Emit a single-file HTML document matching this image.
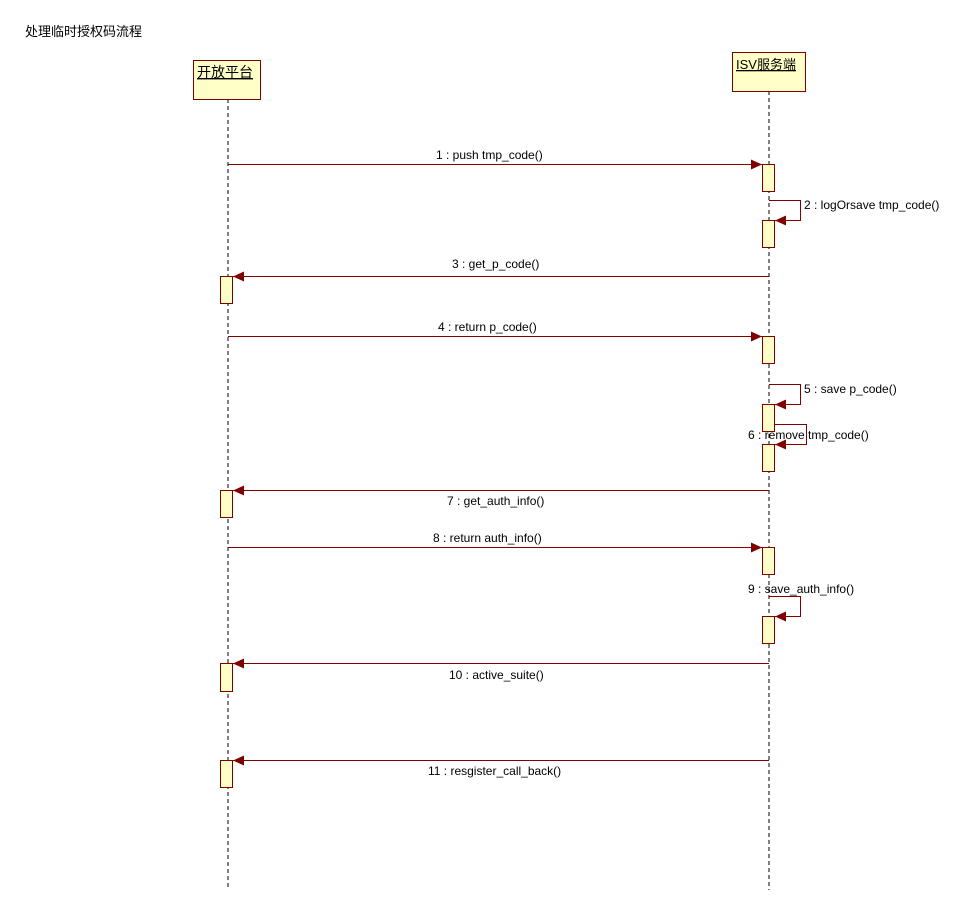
<!DOCTYPE html>
<html><head><meta charset="utf-8"><style>
body{margin:0;background:#fff;}
text{font-family:"Liberation Sans","Noto Sans CJK SC",sans-serif;font-size:12px;fill:#000;}
</style></head><body>
<svg width="966" height="912" xmlns="http://www.w3.org/2000/svg">
<defs><marker id="a" markerWidth="12" markerHeight="10" refX="11" refY="5" orient="auto" markerUnits="userSpaceOnUse"><path d="M0,0 L11,5 L0,10 Z" fill="#800000"/></marker></defs>
<text x="25" y="36" style="font-size:13px">处理临时授权码流程</text>
<line x1="228" y1="99" x2="228" y2="890" stroke="#000" stroke-dasharray="4,3"/>
<line x1="769" y1="91" x2="769" y2="890" stroke="#000" stroke-dasharray="4,3"/>
<rect x="193.5" y="60.5" width="67" height="39" fill="#ffffc8" stroke="#800000"/>
<text x="197" y="77" style="font-size:14px;text-decoration:underline">开放平台</text>
<rect x="732.5" y="52.5" width="73" height="39" fill="#ffffc8" stroke="#800000"/>
<text x="736" y="69" style="font-size:13px;text-decoration:underline">ISV服务端</text>
<g fill="#ffffc8" stroke="#800000">
<rect x="762.5" y="164.5" width="12" height="27"/>
<rect x="762.5" y="220.5" width="12" height="27"/>
<rect x="220.5" y="276.5" width="12" height="27"/>
<rect x="762.5" y="336.5" width="12" height="27"/>
<rect x="762.5" y="404.5" width="12" height="27"/>
<rect x="762.5" y="444.5" width="12" height="27"/>
<rect x="220.5" y="490.5" width="12" height="27"/>
<rect x="762.5" y="547.5" width="12" height="27"/>
<rect x="762.5" y="616.5" width="12" height="27"/>
<rect x="220.5" y="663.5" width="12" height="28"/>
<rect x="220.5" y="760.5" width="12" height="27"/>
</g>
<g stroke="#800000" fill="none" marker-end="url(#a)">
<line x1="228" y1="164.5" x2="762" y2="164.5"/>
<polyline points="769,200.5 800.5,200.5 800.5,220.5 775,220.5"/>
<line x1="769" y1="276.5" x2="233" y2="276.5"/>
<line x1="228" y1="336.5" x2="762" y2="336.5"/>
<polyline points="769,384.5 800.5,384.5 800.5,404.5 775,404.5"/>
<polyline points="775,424.5 806.5,424.5 806.5,444.5 775,444.5"/>
<line x1="769" y1="490.5" x2="233" y2="490.5"/>
<line x1="228" y1="547.5" x2="762" y2="547.5"/>
<polyline points="769,596.5 800.5,596.5 800.5,616.5 775,616.5"/>
<line x1="769" y1="663.5" x2="233" y2="663.5"/>
<line x1="769" y1="760.5" x2="233" y2="760.5"/>
</g>
<text x="436" y="159">1 : push tmp_code()</text>
<text x="804" y="209">2 : logOrsave tmp_code()</text>
<text x="452" y="268">3 : get_p_code()</text>
<text x="438" y="331">4 : return p_code()</text>
<text x="804" y="393">5 : save p_code()</text>
<text x="748" y="439">6 : remove tmp_code()</text>
<text x="447" y="505">7 : get_auth_info()</text>
<text x="433" y="542">8 : return auth_info()</text>
<text x="748" y="593">9 : save_auth_info()</text>
<text x="449" y="679">10 : active_suite()</text>
<text x="428" y="775">11 : resgister_call_back()</text>
</svg>
</body></html>
